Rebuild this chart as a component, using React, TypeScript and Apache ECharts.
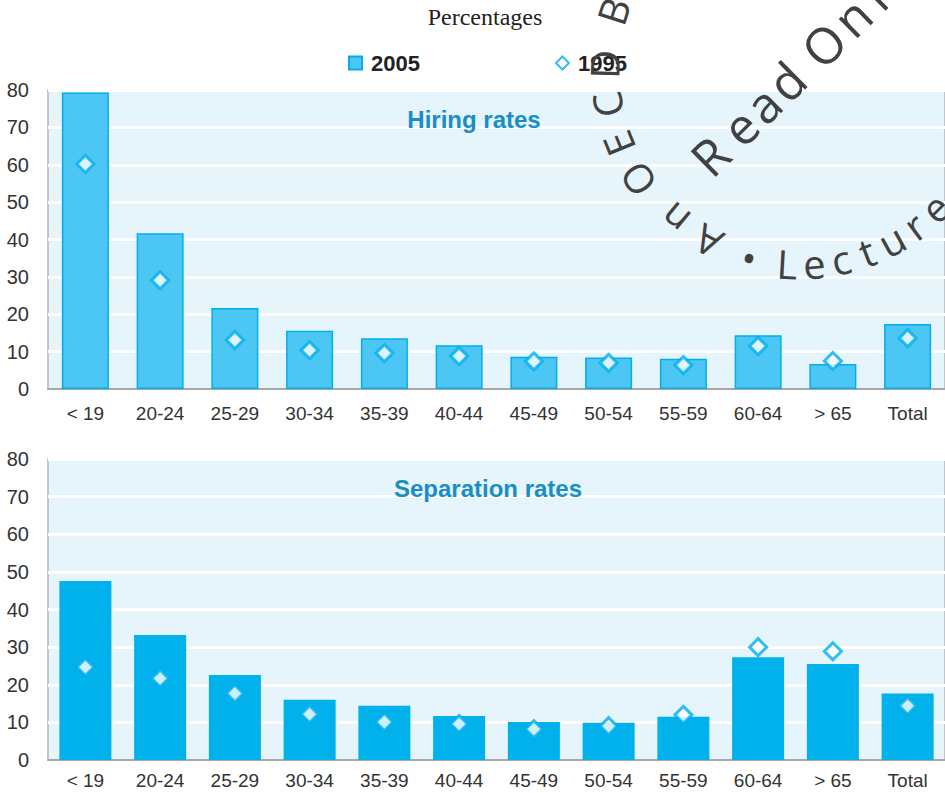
import React, { useEffect, useRef } from 'react';
import * as echarts from 'echarts';

const categories = ['< 19', '20-24', '25-29', '30-34', '35-39', '40-44', '45-49', '50-54', '55-59', '60-64', '> 65', 'Total'];
const yTicks = [0, 10, 20, 30, 40, 50, 60, 70, 80];
const hiring2005 = [79.3, 41.7, 21.7, 15.6, 13.6, 11.7, 8.6, 8.4, 8.1, 14.4, 6.7, 17.4];
const hiring1995 = [60.2, 29.1, 13.1, 10.4, 9.6, 8.8, 7.4, 7.0, 6.4, 11.5, 7.5, 13.6];
const separation2005 = [47.6, 33.2, 22.6, 16.0, 14.4, 11.7, 10.1, 9.9, 11.5, 27.3, 25.5, 17.7];
const separation1995 = [24.7, 21.7, 17.7, 12.2, 10.1, 9.6, 8.2, 9.0, 12.0, 30.0, 28.9, 14.4];
const legendNames = ['2005', '1995'];
const panelTitles = ['Hiring rates', 'Separation rates'];
const chartTitle = 'Percentages';

const WM_FILL = '#414141';
const WM_FONT = '"Open Sans", "Noto Sans", sans-serif';

function arcText(text: string, cx: number, cy: number, r: number, startDeg: number, dir: number, letterStep: number, spaceStep: number, outward: boolean, fontSize: number) {
  const els: any[] = [];
  let ang = startDeg;
  for (const ch of text) {
    if (ch === ' ') { ang += dir * spaceStep; continue; }
    const rad = (ang * Math.PI) / 180;
    const cw = outward ? ang + 90 : ang - 90;
    const x = cx + r * Math.cos(rad);
    const y = cy + r * Math.sin(rad);
    if (y > -8) {
      els.push({
        type: 'text',
        x,
        y,
        rotation: (-cw * Math.PI) / 180,
        z: 100,
        silent: true,
        style: { text: ch, fontSize, fontFamily: WM_FONT, fill: WM_FILL, align: 'center', verticalAlign: 'middle' },
      });
    }
    ang += dir * letterStep;
  }
  return els;
}

function lineText(text: string, x0: number, y0: number, deg: number, widths: Record<string, number>, fontSize: number) {
  const els: any[] = [];
  const rad = (deg * Math.PI) / 180;
  let d = 0;
  for (const ch of text) {
    const x = x0 + d * Math.cos(rad);
    const y = y0 + d * Math.sin(rad);
    if (ch !== ' ' && y > -20) {
      els.push({
        type: 'text',
        x,
        y,
        rotation: (-deg * Math.PI) / 180,
        z: 100,
        silent: true,
        style: { text: ch, fontSize, fontFamily: WM_FONT, fill: WM_FILL, align: 'center', verticalAlign: 'middle' },
      });
    }
    d += widths[ch] ?? 30;
  }
  return els;
}

export default function App() {
  const ref = useRef<HTMLDivElement>(null);
  useEffect(() => {
    const chart = echarts.init(ref.current!, null, { renderer: 'svg' });
    const axisLabel = { color: '#333', fontSize: 19, fontFamily: 'Liberation Sans, Arial, sans-serif' };
    const grids = [
      { left: 48, top: 90, width: 900, height: 299 },
      { left: 48, top: 459, width: 900, height: 301 },
    ];
    const watermark = [
      ...arcText('An OECD Book', 798, 70, 194, 117.7, 1, 12, 4, true, 40),
      ...arcText('• Lecture', 798, 70, 194, 104.6, -1, 8, 3.4, false, 40),
      ...lineText('Read Only', 710, 156, -44.4, { R: 42, e: 32, a: 33, d: 36, ' ': 16, O: 40, n: 30, l: 26, y: 30 }, 50),
    ];
    const option: any = {
      animation: false,
      backgroundColor: '#ffffff',
      title: [
        { text: chartTitle, left: 480, top: 0, textAlign: 'center', textStyle: { fontFamily: 'Liberation Serif, Times New Roman, serif', fontWeight: 'normal', fontSize: 24, color: '#222' } },
        { text: panelTitles[0], left: 469, top: 102, textAlign: 'center', textStyle: { fontFamily: 'Liberation Sans, Arial, sans-serif', fontWeight: 'bold', fontSize: 24, color: '#1A8EC4' } },
        { text: panelTitles[1], left: 483, top: 471, textAlign: 'center', textStyle: { fontFamily: 'Liberation Sans, Arial, sans-serif', fontWeight: 'bold', fontSize: 24, color: '#1A8EC4' } },
      ],
      legend: {
        data: [
          { name: legendNames[0], icon: 'rect' },
          { name: legendNames[1], icon: 'diamond' },
        ],
        left: 348,
        top: 52,
        padding: 0,
        itemWidth: 13,
        itemHeight: 13,
        itemGap: 135,
        textStyle: { fontFamily: 'Liberation Sans, Arial, sans-serif', fontWeight: 'bold', fontSize: 22, color: '#222', padding: [0, 0, 0, 4] },
      },
      grid: grids.map((g) => ({ ...g, show: true, backgroundColor: '#E6F5FC', borderColor: '#B5B5B5', borderWidth: 1.5, containLabel: false })),
      xAxis: [0, 1].map((i) => ({
        type: 'category',
        gridIndex: i,
        data: categories,
        axisTick: { show: false },
        axisLine: { show: true, lineStyle: { color: '#A8A8A8', width: 2 } },
        axisLabel: { ...axisLabel, margin: i === 0 ? 15 : 11 },
        splitLine: { show: false },
      })),
      yAxis: [0, 1].map((i) => ({
        type: 'value',
        gridIndex: i,
        min: yTicks[0],
        max: yTicks[yTicks.length - 1],
        interval: 10,
        axisLine: { show: false },
        axisTick: { show: false },
        axisLabel: { ...axisLabel, fontSize: 20, margin: 19 },
        splitLine: { show: true, lineStyle: { color: '#ffffff', width: 3 } },
      })),
      series: [
        {
          name: legendNames[0], type: 'bar', xAxisIndex: 0, yAxisIndex: 0, data: hiring2005, barWidth: 47,
          itemStyle: { color: '#4CC7F3', borderColor: '#00AEEF', borderWidth: 1.5 },
        },
        {
          name: legendNames[1], type: 'scatter', xAxisIndex: 0, yAxisIndex: 0, data: hiring1995, symbol: 'diamond', symbolSize: 17,
          itemStyle: { color: '#ffffff', borderColor: '#00AEEF', borderWidth: 3 }, z: 5,
        },
        {
          name: legendNames[0], type: 'bar', xAxisIndex: 1, yAxisIndex: 1, data: separation2005, barWidth: 52,
          itemStyle: { color: '#00B1EC' },
        },
        {
          name: legendNames[1], type: 'scatter', xAxisIndex: 1, yAxisIndex: 1, data: separation1995, symbol: 'diamond', symbolSize: 17,
          itemStyle: { color: '#ffffff', borderColor: '#00AEEF', borderWidth: 3 }, z: 5,
        },
      ],
      graphic: watermark,
    };
    chart.setOption(option);
    return () => chart.dispose();
  }, []);
  return <div ref={ref} style={{ position: 'absolute', left: 0, top: 0, width: 945, height: 793 }} />;
}
